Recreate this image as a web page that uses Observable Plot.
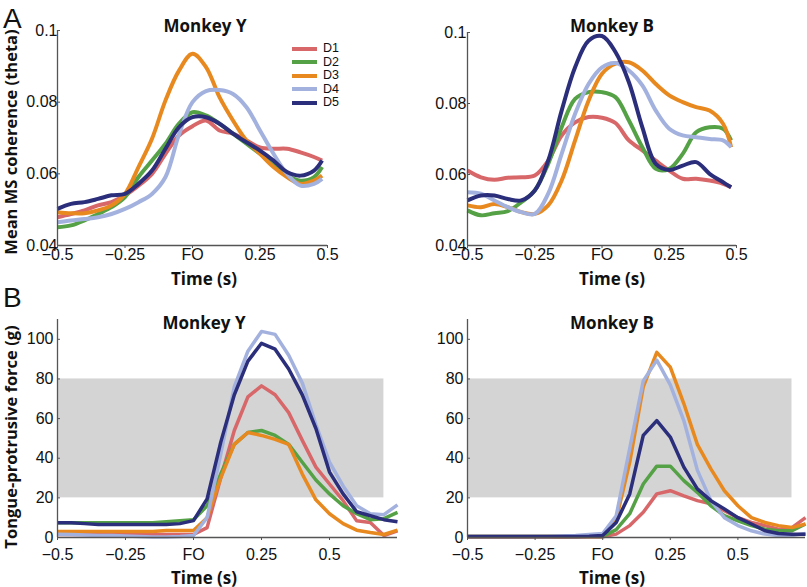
<!DOCTYPE html>
<html>
<head>
<meta charset="utf-8">
<script src="https://cdn.jsdelivr.net/npm/d3@7"></script>
<script src="https://cdn.jsdelivr.net/npm/@observablehq/plot@0.6"></script>
<style>
  body { margin: 0; background: #fff; }
  #fig { position: relative; width: 807px; height: 587px; overflow: hidden; background: #fff; }
  .panel { position: absolute; }
  .panel svg { overflow: visible; }
  .bold { position: absolute; font-family: "Open Sans", sans-serif; font-weight: 700; font-size: 17px; line-height: 1; color: #111; white-space: nowrap; transform: translate(-50%, -50%); }
  .ylab { font-size: 16.5px; transform: translate(-50%, -50%) rotate(-90deg); }
  .letter { position: absolute; font-family: "Liberation Sans", Arial, sans-serif; font-size: 28px; line-height: 1; color: #111; }
  .leg { position: absolute; font-family: "Liberation Sans", Arial, sans-serif; font-size: 12.5px; line-height: 11px; height: 11px; color: #111; }
  .legline { position: absolute; height: 4px; }
</style>
</head>
<body>
<div id="fig"></div>
<script>
// ---------- data ----------
const seriesNames = ["D1", "D2", "D3", "D4", "D5"];
const seriesColors = ["#d8676a", "#55a146", "#e8891f", "#a3b1de", "#2b2e7b"];

// Panel A: mean MS coherence (theta)
const cohTime = [-0.5,-0.45,-0.4,-0.35,-0.3,-0.25,-0.2,-0.15,-0.1,-0.05,0,0.05,0.1,0.15,0.2,0.25,0.3,0.35,0.4,0.45,0.48];
const cohY_D1 = [.0479,.0488,.0498,.0512,.0521,.054,.0567,.060,.0656,.0707,.0733,.0749,.0721,.0712,.0693,.0674,.067,.067,.066,.0647,.0637];
const cohY_D2 = [.0451,.0456,.047,.0488,.0507,.0535,.0591,.0637,.0684,.074,.0772,.0763,.074,.0712,.0684,.0656,.0623,.0595,.0581,.0591,.0619];
const cohY_D3 = [.0493,.049,.049,.0498,.0512,.0544,.0619,.0698,.0805,.0888,.0935,.0898,.0814,.0749,.0693,.0656,.0619,.0591,.0572,.0581,.0595];
const cohY_D4 = [.0465,.047,.0474,.0479,.0488,.0502,.0521,.0544,.0591,.071,.080,.0831,.0834,.0823,.0786,.0721,.0656,.060,.0567,.0572,.0586];
const cohY_D5 = [.0502,.0516,.0521,.053,.054,.0544,.0572,.0609,.067,.073,.0758,.0758,.074,.0712,.0688,.0665,.0637,.0605,.0595,.0609,.0637];

const cohB_D1 = [.0611,.0592,.0585,.0591,.0592,.0597,.0639,.071,.0747,.0762,.076,.0745,.0696,.0668,.0639,.0611,.0588,.0588,.0583,.0574,.0564];
const cohB_D2 = [.0499,.0485,.0491,.0497,.0522,.0555,.063,.0733,.0813,.0832,.0832,.0818,.0752,.0677,.0616,.0616,.0658,.0719,.0733,.0729,.0696];
const cohB_D3 = [.0513,.0508,.0517,.0508,.0494,.0489,.0513,.0583,.0696,.0808,.0884,.0912,.0916,.0893,.0855,.0823,.0804,.079,.078,.0743,.0677];
const cohB_D4 = [.055,.0546,.0527,.0508,.0494,.0489,.0546,.0658,.0771,.0855,.0902,.0914,.0893,.0851,.078,.0729,.071,.0705,.07,.0696,.0677];
const cohB_D5 = [.0527,.0541,.0541,.0531,.0527,.0555,.0639,.078,.0902,.0977,.099,.0945,.086,.0733,.063,.0613,.0625,.0635,.0602,.0578,.0564];

// Panel B: tongue-protrusive force (g)
const forceTime = [-0.5,-0.45,-0.4,-0.35,-0.3,-0.25,-0.2,-0.15,-0.1,-0.05,0,0.05,0.1,0.15,0.2,0.25,0.3,0.35,0.4,0.45,0.5,0.55,0.6,0.65,0.7,0.75];
const forceY_D1 = [1.5,1.5,1.5,1.5,1.5,1.5,1.5,1.5,1.5,1.5,1.5,5,30,54,71,76.5,72,63,49,35.5,27,18.6,8.4,7.6,1,3.4];
const forceY_D2 = [7.5,7.5,7.5,7.5,7.5,7.5,7.5,7.5,8,8.5,9,16,32,47,53,54,51.5,47,38,29,22,16,12,9,9.5,12.7];
const forceY_D3 = [3,3,3,3,3,3,3,3,3.5,3.5,3.5,10,30,47,53,51.5,49.5,47,32,19,12,7,3.7,2.5,1.5,3.7];
const forceY_D4 = [1.7,1.5,1.3,1,1,0.7,0.5,0.3,0.3,0.5,1,10,42,76,94,104,102.5,92,78,57,38,26,16,12,11.5,16.5];
const forceY_D5 = [7.5,7.5,7,6.5,6.5,6.5,6.5,6.5,6.5,7,8.5,19.5,48,72,89,98,95,85,72,55,33,22,13,11,9,8];

const forceB_D1 = [0.3,0.3,0.3,0.3,0.3,0.3,0.3,0.3,0.3,0.3,0.3,1.7,6,12.7,22,23.6,21,18.6,17,13.5,10,7.6,6,4.2,5,10];
const forceB_D2 = [0.5,0.5,0.5,0.5,0.5,0.5,0.5,0.5,0.5,0.5,0.5,4,12,27,36,36,28.7,22.8,16,11,8.4,6,4.2,3.4,3.4,6.8];
const forceB_D3 = [0.5,0.5,0.5,0.5,0.5,0.5,0.5,0.5,0.6,0.8,1,9,38,76,93.4,86,67.6,47,34.6,23.6,16,10,7.6,6,5,6.8];
const forceB_D4 = [0.5,0.5,0.5,0.5,0.5,0.5,0.5,0.7,1,1.5,2,11,45,79,89.5,77,59,34,18.6,10,6,3.4,1.7,1,1,2];
const forceB_D5 = [0.5,0.5,0.5,0.5,0.5,0.5,0.5,0.5,0.5,0.6,1,7.6,22,51.5,59,50.7,35.5,24.5,18.6,14.4,10,6.8,3.4,2,1.7,1.7];

// gray reference band (force range)
const bandTime = [-0.5, 0.7];
const bandForce = [20, 80];

// ticks
const timeTicks = [-0.5, -0.25, 0, 0.25, 0.5];
const timeTickLabels = ["\u22120.5", "\u22120.25", "FO", "0.25", "0.5"];
const cohTicks = [0.04, 0.06, 0.08, 0.1];
const cohTickLabels = ["0.04", "0.06", "0.08", "0.1"];
const forceTicks = [0, 20, 40, 60, 80, 100];
const forceTickLabels = ["0", "20", "40", "60", "80", "100"];

// ---------- drawing ----------
function makePanel(cfg) {
  const rows = [];
  cfg.series.forEach((vals, i) => vals.forEach((v, j) => rows.push({t: cfg.time[j], v, s: seriesNames[i]})));
  const marks = [];
  if (cfg.band) {
    marks.push(Plot.rect([{x1: bandTime[0], x2: bandTime[1], y1: bandForce[0], y2: bandForce[1]}],
      {x1: "x1", x2: "x2", y1: "y1", y2: "y2", fill: "#d4d4d4"}));
  }
  marks.push(Plot.line(rows, {x: "t", y: "v", z: "s", stroke: "s", strokeWidth: cfg.sw, curve: cfg.curve,
    strokeLinejoin: "round", strokeLinecap: "butt"}));
  marks.push(Plot.ruleY([cfg.yDomain[0]], {stroke: "#555", strokeWidth: 1.3}));
  marks.push(Plot.ruleX([cfg.xDomain[0]], {stroke: "#555", strokeWidth: 1.3}));
  marks.push(Plot.axisX({ticks: timeTicks, tickFormat: d => timeTickLabels[timeTicks.indexOf(d)],
    tickSize: 3, insetTop: 3, tickPadding: cfg.xPad, label: null, stroke: "#555"}));
  marks.push(Plot.axisY({ticks: cfg.yTicks, tickFormat: d => cfg.yTickLabels[cfg.yTicks.indexOf(d)],
    tickSize: 3, insetLeft: 3, tickPadding: cfg.yPad, label: null, stroke: "#555"}));
  return Plot.plot({
    width: cfg.width, height: cfg.height,
    marginLeft: cfg.m[0], marginRight: cfg.m[1], marginTop: cfg.m[2], marginBottom: cfg.m[3],
    x: {domain: cfg.xDomain, label: null},
    y: {domain: cfg.yDomain, label: null},
    color: {domain: seriesNames, range: seriesColors},
    style: {fontFamily: "'Liberation Sans', Arial, sans-serif", fontSize: "16px", color: "#111", background: "transparent", overflow: "visible"},
    marks
  });
}

const fig = document.getElementById("fig");
function place(node, left, top) {
  const d = document.createElement("div");
  d.className = "panel";
  d.style.left = left + "px";
  d.style.top = top + "px";
  d.appendChild(node);
  fig.appendChild(d);
}
function label(text, x, y, cls) {
  const d = document.createElement("div");
  d.className = cls;
  d.textContent = text;
  d.style.left = x + "px";
  d.style.top = y + "px";
  fig.appendChild(d);
}

place(makePanel({time: cohTime, series: [cohY_D1, cohY_D2, cohY_D3, cohY_D4, cohY_D5],
  xDomain: [-0.5, 0.5], yDomain: [0.04, 0.1], yTicks: cohTicks, yTickLabels: cohTickLabels,
  width: 400, height: 290, m: [57, 73, 30, 45], sw: 4, curve: "catmull-rom", xPad: 0, yPad: 0}), 0, 0);
place(makePanel({time: cohTime, series: [cohB_D1, cohB_D2, cohB_D3, cohB_D4, cohB_D5],
  xDomain: [-0.5, 0.5], yDomain: [0.04, 0.1], yTicks: cohTicks, yTickLabels: cohTickLabels,
  width: 407, height: 290, m: [67, 71, 32, 45], sw: 4, curve: "catmull-rom", xPad: 0, yPad: 1}), 400, 0);
place(makePanel({time: forceTime, series: [forceY_D1, forceY_D2, forceY_D3, forceY_D4, forceY_D5],
  xDomain: [-0.5, 0.75], yDomain: [0, 110], yTicks: forceTicks, yTickLabels: forceTickLabels, band: true,
  width: 400, height: 297, m: [57, 3, 29, 50], sw: 3.5, curve: "linear", xPad: 8, yPad: 4}), 0, 290);
place(makePanel({time: forceTime, series: [forceB_D1, forceB_D2, forceB_D3, forceB_D4, forceB_D5],
  xDomain: [-0.5, 0.75], yDomain: [0, 110], yTicks: forceTicks, yTickLabels: forceTickLabels, band: true,
  width: 407, height: 297, m: [67, 2, 29, 50], sw: 3.5, curve: "linear", xPad: 8, yPad: 4}), 400, 290);

// text
label("A", 3, 5, "letter");
label("B", 3, 284, "letter");
label("Monkey Y", 205, 25, "bold");
label("Monkey B", 612, 25, "bold");
label("Monkey Y", 204, 322, "bold");
label("Monkey B", 612, 322, "bold");
label("Time (s)", 204, 278, "bold");
label("Time (s)", 612, 278, "bold");
label("Time (s)", 204, 577, "bold");
label("Time (s)", 612, 577, "bold");
label("Mean MS coherence (theta)", 11, 142, "bold ylab");
label("Tongue-protrusive force (g)", 11, 437, "bold ylab");

// legend (panel A, Monkey Y)
seriesNames.forEach((name, i) => {
  const cy = 48.5 + i * 13.5;
  const ln = document.createElement("div");
  ln.className = "legline";
  ln.style.left = "292px";
  ln.style.width = "25px";
  ln.style.top = (cy - 2) + "px";
  ln.style.background = seriesColors[i];
  fig.appendChild(ln);
  const t = document.createElement("div");
  t.className = "leg";
  t.textContent = name;
  t.style.left = "323px";
  t.style.top = (cy - 5.5) + "px";
  fig.appendChild(t);
});
</script>
</body>
</html>
